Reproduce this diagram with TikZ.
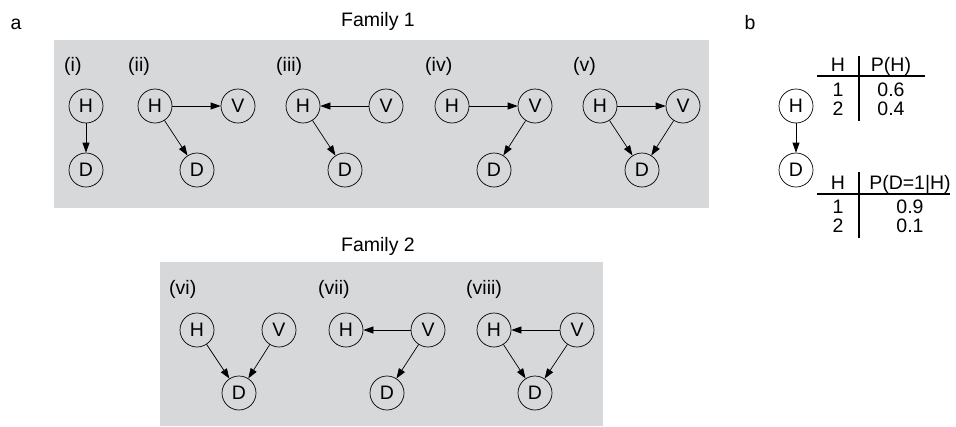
\documentclass[tikz,border=0pt]{standalone}
\usepackage{fontspec}
\setmainfont{Liberation Sans}
\usetikzlibrary{arrows.meta}
\definecolor{panelgray}{RGB}{215,216,218}
\tikzset{
	var/.style={circle, draw, line width=0.7pt, minimum size=34pt, inner sep=0pt},
	edge/.style={line width=0.7pt, -{Triangle[length=10pt,width=7pt]}},
	lbl/.style={anchor=base west, inner sep=0pt},
	txt/.style={anchor=base, inner sep=0pt},
	rule/.style={line width=1.6pt},
}
\begin{document}
\begin{tikzpicture}[x=1pt, y=-1pt, font=\fontsize{19.5}{22}\selectfont]
		\useasboundingbox (0,0) rectangle (956,426);
		\fill[panelgray] (54,40) rectangle (709,208);
		\fill[panelgray] (160,262) rectangle (603,426);
		\node[txt] (a) at (16,29) {a};
		\node[txt] (b) at (750,29) {b};
		\node[txt] (fam1) at (378,26) {Family 1};
		\node[txt] (fam2) at (378,251) {Family 2};
		% Family 1
		\node[lbl] (l1) at (64,71) {(i)};
		\node[var] (h1) at (86,106) {H};
		\node[var] (d1) at (86,170) {D};
		\draw[edge] (h1) -- (d1);
		\begin{scope}[xshift=155pt]
			\node[lbl] (l2) at (-27,71) {(ii)};
			\node[var] (h2) at (0,106) {H};
			\node[var] (v2) at (83,106) {V};
			\node[var] (d2) at (42,170) {D};
			\draw[edge] (h2) -- (v2);
			\draw[edge] (h2) -- (d2);
		\end{scope}
		\begin{scope}[xshift=303pt]
			\node[lbl] (l3) at (-27,71) {(iii)};
			\node[var] (h3) at (0,106) {H};
			\node[var] (v3) at (83,106) {V};
			\node[var] (d3) at (42,170) {D};
			\draw[edge] (v3) -- (h3);
			\draw[edge] (h3) -- (d3);
		\end{scope}
		\begin{scope}[xshift=452pt]
			\node[lbl] (l4) at (-27,71) {(iv)};
			\node[var] (h4) at (0,106) {H};
			\node[var] (v4) at (83,106) {V};
			\node[var] (d4) at (42,170) {D};
			\draw[edge] (h4) -- (v4);
			\draw[edge] (v4) -- (d4);
		\end{scope}
		\begin{scope}[xshift=600pt]
			\node[lbl] (l5) at (-27,71) {(v)};
			\node[var] (h5) at (0,106) {H};
			\node[var] (v5) at (83,106) {V};
			\node[var] (d5) at (42,170) {D};
			\draw[edge] (h5) -- (v5);
			\draw[edge] (h5) -- (d5);
			\draw[edge] (v5) -- (d5);
		\end{scope}
		
		% Family 2
		\begin{scope}[xshift=197pt]
			\node[lbl] (l6) at (-28,294) {(vi)};
			\node[var] (h6) at (0,330) {H};
			\node[var] (v6) at (82,330) {V};
			\node[var] (d6) at (42,393) {D};
			\draw[edge] (h6) -- (d6);
			\draw[edge] (v6) -- (d6);
		\end{scope}
		\begin{scope}[xshift=346pt]
			\node[lbl] (l7) at (-28,294) {(vii)};
			\node[var] (h7) at (0,330) {H};
			\node[var] (v7) at (82,330) {V};
			\node[var] (d7) at (41,393) {D};
			\draw[edge] (v7) -- (h7);
			\draw[edge] (v7) -- (d7);
		\end{scope}
		\begin{scope}[xshift=494pt]
			\node[lbl] (l8) at (-28,294) {(viii)};
			\node[var] (h8) at (0,330) {H};
			\node[var] (v8) at (83,330) {V};
			\node[var] (d8) at (41,393) {D};
			\draw[edge] (v8) -- (h8);
			\draw[edge] (h8) -- (d8);
			\draw[edge] (v8) -- (d8);
		\end{scope}
		
		% Panel b: model and tables
		\node[var] (hb) at (796,106) {H};
		\node[var] (db) at (796,170) {D};
		\draw[edge] (hb) -- (db);
		\node[txt] (th1) at (838,71) {H};
		\node[txt] (tp1) at (891,71) {P(H)};
		\node[txt] (r11) at (838,96) {1};
		\node[txt] (r12) at (838,115) {2};
		\node[txt] (p11) at (891,96) {0.6};
		\node[txt] (p12) at (891,115) {0.4};
		\draw[rule] (817,76) -- (925,76);
		\draw[rule] (859,56) -- (859,121);
		\node[txt] (th2) at (838,189) {H};
		\node[txt] (tp2) at (910,189) {P(D=1|H)};
		\node[txt] (r21) at (838,213) {1};
		\node[txt] (r22) at (838,232) {2};
		\node[txt] (p21) at (910,213) {0.9};
		\node[txt] (p22) at (910,232) {0.1};
		\draw[rule] (817,194) -- (950,194);
		\draw[rule] (859,172) -- (859,238);
	\end{tikzpicture}
\end{document}
